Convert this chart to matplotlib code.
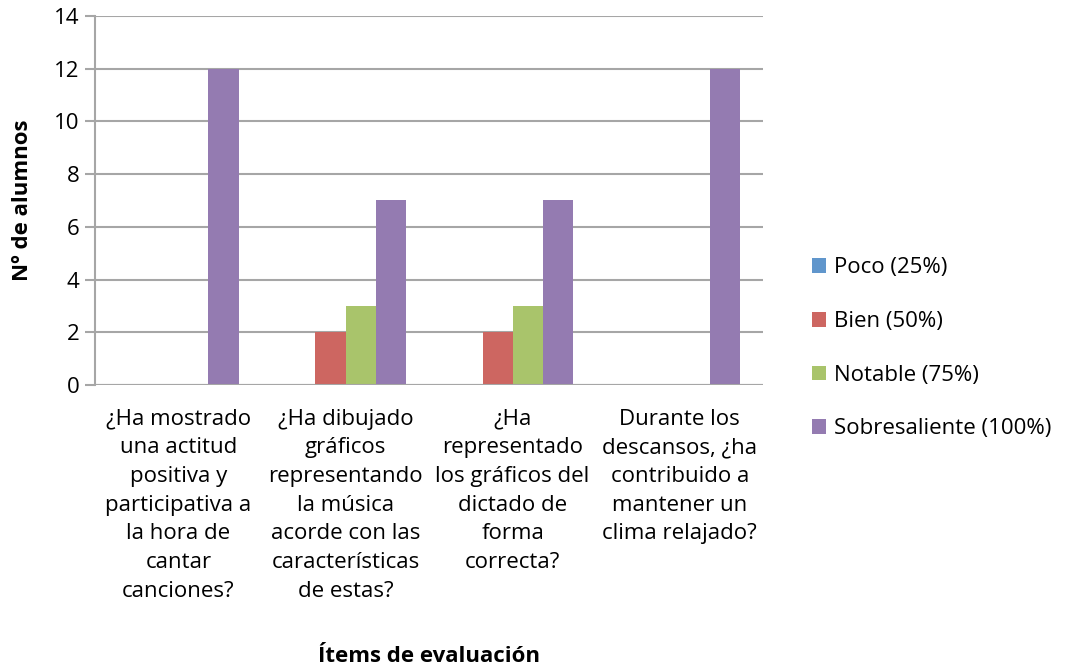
import numpy as np
import matplotlib
matplotlib.use("Agg")
import matplotlib.pyplot as plt

plt.rcParams['font.family'] = ['Open Sans', 'DejaVu Sans']

categories = [
    "¿Ha mostrado\nuna actitud\npositiva y\nparticipativa a\nla hora de\ncantar\ncanciones?",
    "¿Ha dibujado\ngráficos\nrepresentando\nla música\nacorde con las\ncaracterísticas\nde estas?",
    "¿Ha\nrepresentado\nlos gráficos del\ndictado de\nforma\ncorrecta?",
    "Durante los\ndescansos, ¿ha\ncontribuido a\nmantener un\nclima relajado?",
]
series = ["Poco (25%)", "Bien (50%)", "Notable (75%)", "Sobresaliente (100%)"]
poco = [0, 0, 0, 0]
bien = [0, 2, 2, 0]
notable = [0, 3, 3, 0]
sobresaliente = [12, 7, 7, 12]
colors = ["#6096CC", "#CD6661", "#A9C46B", "#947BB1"]

fig = plt.figure(figsize=(10.66, 6.66), dpi=100)
ax = fig.add_axes([0.089, 0.422, 0.627, 0.554])

x = np.arange(len(categories))
w = 0.18
for i, (vals, name) in enumerate(zip([poco, bien, notable, sobresaliente], series)):
    ax.bar(x + (i - 1.5) * w, vals, w, color=colors[i], label=name, zorder=3)

ax.set_xlim(-0.5, len(categories) - 0.5)
ax.set_ylim(0, 14)
ax.set_yticks(range(0, 15, 2))
ax.yaxis.grid(True, color="#A6A6A6", linewidth=1.5, zorder=0)
for s in ["top", "right", "bottom"]:
    ax.spines[s].set_visible(False)
ax.spines["left"].set_color("#A6A6A6")
ax.spines["left"].set_linewidth(1.5)
ax.axhline(0, color="#A6A6A6", linewidth=1.5, zorder=4)
ax.tick_params(axis="y", length=7, width=1.5, color="#A6A6A6", labelsize=16, pad=4)
ax.tick_params(axis="x", length=0, labelsize=16, pad=17)
ax.set_xticks(x)
ax.set_xticklabels(categories, linespacing=1.48)

ax.set_ylabel("Nº de alumnos", fontsize=16, fontweight="bold", labelpad=15)
ax.set_xlabel("Ítems de evaluación", fontsize=16, fontweight="bold", labelpad=32)

ax.legend(loc="center left", bbox_to_anchor=(1.043, 0.099), frameon=False,
          fontsize=16, handlelength=0.65, handleheight=0.65,
          handletextpad=0.32, labelspacing=1.47)

fig.savefig("out.png", dpi=100)
